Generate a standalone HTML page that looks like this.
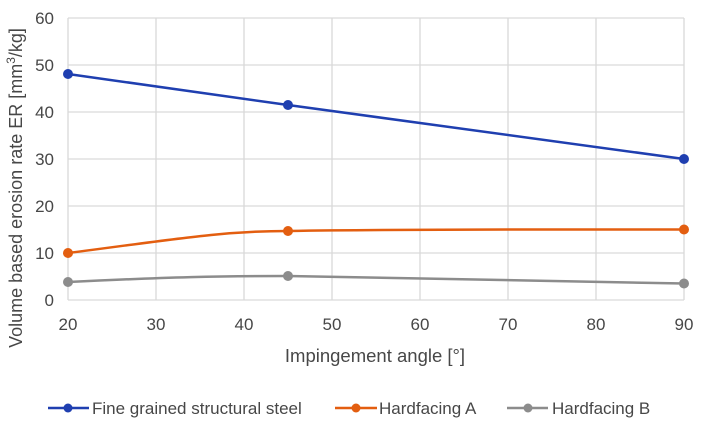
<!DOCTYPE html>
<html><head><style>body{margin:0;background:#fff}svg{display:block}text{font-family:"Liberation Sans",sans-serif;fill:#474747}</style></head><body>
<svg width="701" height="422" viewBox="0 0 701 422">
<g stroke="#d9d9d9" stroke-width="1.3">
<line x1="68" y1="18" x2="684" y2="18"/><line x1="68" y1="65" x2="684" y2="65"/><line x1="68" y1="112" x2="684" y2="112"/><line x1="68" y1="159" x2="684" y2="159"/><line x1="68" y1="206" x2="684" y2="206"/><line x1="68" y1="253" x2="684" y2="253"/><line x1="68" y1="300" x2="684" y2="300"/>
<line x1="68" y1="18" x2="68" y2="300"/><line x1="156" y1="18" x2="156" y2="300"/><line x1="244" y1="18" x2="244" y2="300"/><line x1="332" y1="18" x2="332" y2="300"/><line x1="420" y1="18" x2="420" y2="300"/><line x1="508" y1="18" x2="508" y2="300"/><line x1="596" y1="18" x2="596" y2="300"/><line x1="684" y1="18" x2="684" y2="300"/>
</g>
<g font-size="17" text-anchor="end">
<text x="54" y="24">60</text><text x="54" y="71">50</text><text x="54" y="118">40</text><text x="54" y="165">30</text><text x="54" y="212">20</text><text x="54" y="259">10</text><text x="54" y="306">0</text>
</g>
<g font-size="17" text-anchor="middle">
<text x="68" y="330">20</text><text x="156" y="330">30</text><text x="244" y="330">40</text><text x="332" y="330">50</text><text x="420" y="330">60</text><text x="508" y="330">70</text><text x="596" y="330">80</text><text x="684" y="330">90</text>
<text x="375" y="362" font-size="18.5">Impingement angle [°]</text>
<text transform="translate(22,188) rotate(-90)" font-size="18">Volume based erosion rate ER [mm<tspan font-size="12" dy="-7">3</tspan><tspan dy="7">/kg]</tspan></text>
</g>
<g fill="none" stroke-width="2.5">
<path d="M68,74 L288,105 L684,159" stroke="#1f3fb0"/>
<path d="M68,253 C170,240 220,231 288,231 C420,229 560,229.5 684,229.5" stroke="#e35e10"/>
<path d="M68,282 C170,277 220,276 288,276 C420,278 560,282 684,283.5" stroke="#8c8c8c"/>
</g>
<g fill="#1f3fb0"><circle cx="68" cy="74" r="5"/><circle cx="288" cy="105" r="5"/><circle cx="684" cy="159" r="5"/></g>
<g fill="#e35e10"><circle cx="68" cy="253" r="5"/><circle cx="288" cy="231" r="5"/><circle cx="684" cy="229.5" r="5"/></g>
<g fill="#8c8c8c"><circle cx="68" cy="282" r="5"/><circle cx="288" cy="276" r="5"/><circle cx="684" cy="283.5" r="5"/></g>
<g stroke-width="2.5">
<line x1="48" y1="408" x2="89" y2="408" stroke="#1f3fb0"/><circle cx="68" cy="408" r="4.5" fill="#1f3fb0"/>
<line x1="335" y1="408" x2="377" y2="408" stroke="#e35e10"/><circle cx="356" cy="408" r="4.5" fill="#e35e10"/>
<line x1="507" y1="408" x2="548" y2="408" stroke="#8c8c8c"/><circle cx="528" cy="408" r="4.5" fill="#8c8c8c"/>
</g>
<g font-size="17"><text x="92" y="414">Fine grained structural steel</text><text x="379" y="414">Hardfacing A</text><text x="552" y="414">Hardfacing B</text></g>
</svg>
</body></html>
